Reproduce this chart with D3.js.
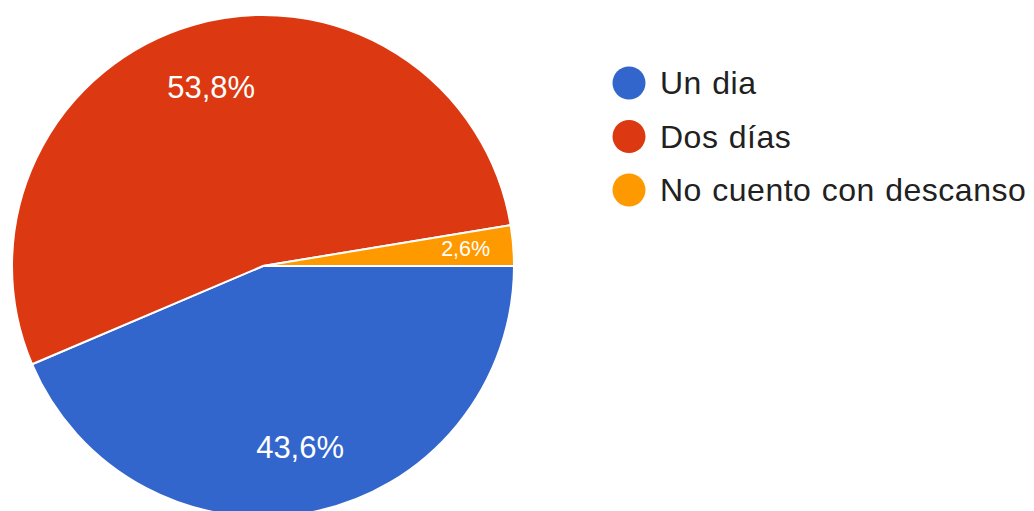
<!DOCTYPE html>
<html>
<head>
<meta charset="utf-8">
<script src="https://cdn.jsdelivr.net/npm/d3@7"></script>
<style>
  html, body { margin: 0; padding: 0; background: #fff; }
  svg { display: block; font-family: Arial, "Liberation Sans", sans-serif; }
</style>
</head>
<body>
<svg id="chart" width="1034" height="511"></svg>
<script>
// Survey answers and their shares (%)
const categories = ["Un dia", "Dos días", "No cuento con descanso"];
const values = [43.6, 53.8, 2.6];
const labels = ["43,6%", "53,8%", "2,6%"];
const colors = ["#3366cc", "#dc3912", "#ff9900"];

const svg = d3.select("#chart");
const cx = 263, cy = 266, r = 251;

// Slices run clockwise from 3 o'clock, in data order
const pie = d3.pie()
  .sort(null)
  .value(d => d)
  .startAngle(Math.PI / 2)
  .endAngle(Math.PI / 2 + 2 * Math.PI);

const arcs = pie(values);
const arc = d3.arc().innerRadius(0).outerRadius(r);

const g = svg.append("g").attr("transform", `translate(${cx},${cy})`);

g.selectAll("path.slice")
  .data(arcs)
  .join("path")
  .attr("class", "slice")
  .attr("d", arc)
  .attr("fill", (d, i) => colors[i])
  .attr("stroke", "#fff")
  .attr("stroke-width", 2)
  .attr("stroke-linejoin", "round");

// Percentage labels inside the slices
g.selectAll("text.pct")
  .data(arcs)
  .join("text")
  .attr("class", "pct")
  .attr("transform", d => {
    const a = (d.startAngle + d.endAngle) / 2;
    const k = d.value < 5 ? 0.81 : 0.74;
    return `translate(${Math.sin(a) * r * k},${-Math.cos(a) * r * k})`;
  })
  .attr("text-anchor", "middle")
  .attr("dominant-baseline", "central")
  .attr("fill", "#fff")
  .attr("font-size", d => d.value < 5 ? 21.5 : 31)
  .text((d, i) => labels[i]);

// Legend
const legend = svg.append("g").attr("transform", "translate(629,83)");
const rows = legend.selectAll("g.item")
  .data(categories)
  .join("g")
  .attr("class", "item")
  .attr("transform", (d, i) => `translate(0,${i * 53.5})`);

rows.append("circle")
  .attr("r", 16.5)
  .attr("fill", (d, i) => colors[i]);

rows.append("text")
  .attr("x", 31)
  .attr("dy", "0.35em")
  .attr("fill", "#212121")
  .attr("font-size", 32)
  .attr("letter-spacing", 0.5)
  .attr("word-spacing", 1)
  .text(d => d);
</script>
</body>
</html>
